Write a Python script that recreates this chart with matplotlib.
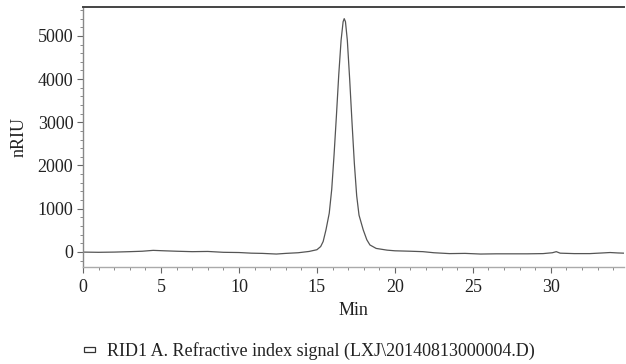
import matplotlib.pyplot as plt
from matplotlib.ticker import MultipleLocator
from matplotlib.patches import Rectangle

plt.rcParams["font.family"] = ['Liberation Serif', 'DejaVu Serif']

# retention time (min) and refractive index signal (nRIU)
time_min = [0.0, 1.0, 2.0, 3.0, 3.8, 4.5, 5.2, 6.0, 7.0, 8.0, 9.0, 10.0, 10.8,
            11.5, 12.4, 13.0, 13.8, 14.5, 15.0, 15.24, 15.4, 15.58, 15.79,
            15.95, 16.1, 16.25, 16.4, 16.55, 16.68, 16.75, 16.83, 16.95, 17.1,
            17.25, 17.4, 17.55, 17.7, 17.97, 18.2, 18.4, 18.8, 19.5, 20.0, 21.0,
            21.8, 22.5, 23.5, 24.5, 25.5, 26.5, 27.5, 28.5, 29.5, 30.1, 30.35,
            30.6, 31.5, 32.5, 33.3, 33.8, 34.3, 34.7]
signal = [-5, -10, -5, 5, 15, 35, 25, 15, 5, 10, -10, -15, -30,
          -35, -50, -35, -20, 10, 50, 123, 240, 509, 895,
          1450, 2250, 3150, 4100, 4900, 5330, 5400, 5330, 4900, 4000,
          3000, 2050, 1300, 850, 509, 280, 160, 80, 40, 25, 15,
          5, -20, -40, -35, -50, -45, -45, -45, -40, -20, 5,
          -30, -40, -40, -25, -15, -25, -30]

x_ticks = [0, 5, 10, 15, 20, 25, 30]
y_ticks = [0, 1000, 2000, 3000, 4000, 5000]
legend_label = r"RID1 A. Refractive index signal (LXJ\20140813000004.D)"

fig = plt.figure(figsize=(6.26, 3.64), dpi=100)
ax = fig.add_axes([0.1326, 0.2665, 0.8644, 0.7143])

ax.plot(time_min, signal, color='#555555', linewidth=0.9)

ax.set_xlim(0, 34.7)
ax.set_ylim(-350, 5670)
ax.set_xticks(x_ticks)
ax.set_yticks(y_ticks)
ax.xaxis.set_minor_locator(MultipleLocator(1))
ax.yaxis.set_minor_locator(MultipleLocator(200))

ax.spines['right'].set_visible(False)
ax.spines['top'].set_color('#444444')
ax.spines['top'].set_linewidth(1.4)
ax.spines['left'].set_color('#888888')
ax.spines['left'].set_linewidth(1.0)
ax.spines['bottom'].set_color('#aaaaaa')
ax.spines['bottom'].set_linewidth(1.0)

ax.tick_params(axis='both', which='major', labelsize=13, color='#666666',
               length=4, width=0.8, direction='out', pad=3)
ax.tick_params(axis='x', which='major', pad=5)
ax.tick_params(axis='both', which='minor', color='#777777', length=2.5,
               width=0.6, direction='out')
ax.tick_params(axis='both', labelcolor='#222222')

ax.set_xlabel('Min', fontsize=13, color='#222222', labelpad=4)
ax.set_ylabel('nRIU', fontsize=13, color='#222222', labelpad=7)

# legend line under the chart
fig.patches.append(Rectangle((0.1342, 0.0320), 0.0176, 0.0150,
                             transform=fig.transFigure, fill=False,
                             edgecolor='#333333', linewidth=0.9))
fig.text(0.171, 0.035, legend_label, fontsize=13, color='#222222',
         va='center', ha='left')

fig.savefig('out.png', dpi=100)
